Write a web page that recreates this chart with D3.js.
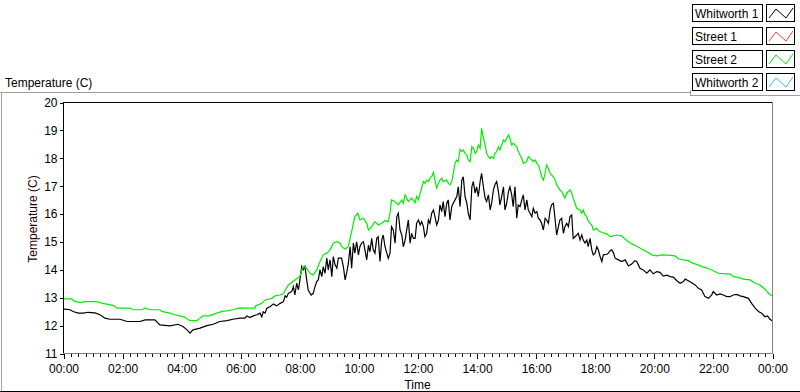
<!DOCTYPE html>
<html>
<head>
<meta charset="utf-8">
<script src="https://cdn.jsdelivr.net/npm/d3@7"></script>
<style>
  body { margin: 0; background: #fff; }
  svg { display: block; font-family: "Liberation Sans", Arial, sans-serif; }
  .tick text { font-size: 12px; fill: #000; }
  .tick line { stroke: #000; }
</style>
</head>
<body>
<svg></svg>
<script>
// Series names and colours, in legend order
var seriesNames  = ['Whitworth 1', 'Street 1', 'Street 2', 'Whitworth 2'];
var seriesColors = ['#000000', '#ff3b3b', '#00ee00', '#33b5ff'];

// Hours since midnight and temperature (C)
var whitworth1Hours = [0.00,0.07,0.24,0.34,0.51,0.68,0.85,1.08,1.25,1.42,1.59,1.93,2.17,2.61,2.78,3.11,3.28,3.62,3.89,4.06,
  4.20,4.30,4.40,4.64,4.87,5.08,5.31,5.55,5.75,5.99,6.16,6.22,6.33,6.44,6.56,6.67,6.73,6.78,6.84,6.90,
  7.01,7.12,7.23,7.35,7.46,7.52,7.57,7.63,7.74,7.80,7.85,7.91,7.97,8.02,8.08,8.13,8.19,8.25,8.30,8.40,
  8.47,8.53,8.59,8.64,8.70,8.76,8.81,8.87,8.93,8.98,9.04,9.10,9.15,9.21,9.27,9.32,9.43,9.49,9.55,9.60,
  9.66,9.72,9.77,9.83,9.88,9.94,10.00,10.05,10.11,10.17,10.22,10.28,10.34,10.39,10.45,10.50,10.56,10.62,10.67,10.73,
  10.79,10.84,10.90,10.96,11.01,11.07,11.12,11.18,11.24,11.30,11.35,11.41,11.47,11.52,11.58,11.69,11.75,11.80,11.86,11.92,
  11.97,12.03,12.09,12.14,12.20,12.25,12.31,12.37,12.42,12.48,12.54,12.59,12.65,12.71,12.76,12.82,12.87,12.93,12.99,13.04,
  13.10,13.16,13.21,13.27,13.33,13.38,13.44,13.50,13.55,13.61,13.67,13.72,13.78,13.84,13.89,13.95,14.00,14.06,14.12,14.17,
  14.23,14.29,14.34,14.40,14.46,14.51,14.57,14.62,14.68,14.74,14.79,14.85,14.91,14.96,15.02,15.08,15.13,15.19,15.24,15.30,
  15.36,15.41,15.47,15.53,15.58,15.64,15.70,15.75,15.81,15.87,15.92,15.98,16.04,16.09,16.15,16.20,16.26,16.32,16.37,16.43,
  16.49,16.54,16.60,16.66,16.71,16.77,16.82,16.88,16.94,16.99,17.05,17.11,17.16,17.22,17.27,17.33,17.39,17.44,17.50,17.56,
  17.61,17.67,17.73,17.78,17.84,17.90,17.95,18.01,18.07,18.12,18.18,18.24,18.29,18.41,18.46,18.52,18.57,18.63,18.69,18.80,
  18.91,19.03,19.14,19.25,19.36,19.42,19.53,19.64,19.76,19.87,19.98,20.10,20.21,20.32,20.44,20.55,20.66,20.78,20.89,21.00,
  21.06,21.17,21.28,21.40,21.51,21.62,21.73,21.85,21.96,22.01,22.13,22.24,22.35,22.47,22.58,22.69,22.81,22.92,23.03,23.20,
  23.31,23.43,23.54,23.65,23.76,23.85,23.93,24.00];
var whitworth1Temp = [12.57,12.57,12.55,12.49,12.43,12.43,12.46,12.44,12.37,12.25,12.21,12.21,12.13,12.13,12.19,12.19,12.01,11.97,12.03,11.95,
  11.83,11.71,11.83,11.89,11.98,12.03,12.13,12.16,12.21,12.25,12.25,12.33,12.27,12.33,12.37,12.43,12.30,12.48,12.43,12.61,
  12.66,12.76,12.69,12.78,12.84,13.05,13.00,13.14,13.20,13.38,13.08,13.50,13.26,13.62,14.10,13.98,14.10,13.62,13.26,13.08,
  13.14,13.38,13.56,13.62,13.98,13.74,14.10,13.86,14.40,13.98,14.34,13.74,14.46,14.16,14.04,14.40,14.40,14.10,13.62,13.86,
  14.22,14.81,14.04,14.94,14.58,14.99,14.52,14.81,14.94,14.99,14.70,14.34,14.87,14.63,15.11,14.70,14.58,15.11,15.17,14.28,
  15.05,15.23,14.81,14.58,14.40,14.58,15.53,15.41,14.94,15.89,16.01,15.41,15.23,14.81,15.05,15.77,14.94,15.29,15.11,15.11,
  15.65,15.77,15.59,15.71,15.53,15.17,15.29,15.77,15.65,16.01,16.13,15.89,15.59,15.77,16.31,16.07,16.43,15.89,16.37,16.49,
  15.77,16.25,16.37,16.49,16.61,16.96,16.25,17.20,17.32,16.61,16.37,16.01,15.77,16.96,17.15,16.73,16.96,16.61,17.15,17.44,
  16.96,16.55,16.43,16.67,16.13,16.37,16.85,17.03,17.15,16.79,16.31,16.61,16.96,16.13,16.37,16.79,16.96,16.67,16.25,16.96,
  15.83,16.31,16.25,16.49,16.67,16.13,16.49,16.13,16.01,15.89,16.19,16.01,16.07,15.83,15.77,15.65,15.41,15.83,15.77,15.65,
  16.13,16.31,16.37,15.77,15.23,15.53,15.77,15.83,15.29,15.53,15.65,15.53,15.89,15.95,15.11,15.17,15.23,15.29,15.05,15.23,
  15.05,14.94,15.05,14.81,15.11,14.70,14.52,14.58,14.81,14.70,14.46,14.28,14.52,14.54,14.58,14.67,14.70,14.60,14.40,14.34,
  14.28,14.34,14.12,14.19,14.31,14.28,14.04,13.98,13.86,13.98,13.84,13.92,13.89,13.76,13.79,13.74,13.72,13.59,13.50,13.56,
  13.65,13.59,13.52,13.44,13.32,13.26,13.02,12.96,13.08,13.20,13.08,13.12,13.08,13.02,13.02,13.08,13.10,13.05,13.02,12.96,
  12.78,12.61,12.49,12.43,12.30,12.33,12.21,12.16];

var street2Hours = [0.00,0.30,0.35,0.58,0.74,1.14,1.35,1.69,1.83,2.27,2.37,2.67,2.78,2.95,3.28,3.34,3.62,3.79,3.96,4.13,
  4.30,4.53,4.64,4.74,4.98,5.20,5.42,5.55,5.75,5.99,6.16,6.50,6.52,6.73,6.84,7.07,7.18,7.35,7.46,7.52,
  7.63,7.85,8.02,8.08,8.13,8.25,8.36,8.47,8.59,8.70,8.81,8.93,9.04,9.15,9.27,9.38,9.43,9.55,9.66,9.72,
  9.77,9.88,9.98,10.05,10.17,10.28,10.34,10.45,10.56,10.67,10.79,10.90,11.01,11.07,11.12,11.24,11.35,11.47,11.52,11.58,
  11.69,11.80,11.92,11.97,12.03,12.09,12.20,12.25,12.31,12.37,12.42,12.48,12.54,12.59,12.65,12.71,12.76,12.82,12.87,12.99,
  13.04,13.10,13.16,13.21,13.27,13.33,13.38,13.44,13.50,13.55,13.61,13.67,13.72,13.78,13.84,13.89,13.95,14.00,14.06,14.12,
  14.17,14.23,14.29,14.34,14.40,14.46,14.51,14.57,14.62,14.68,14.74,14.79,14.85,14.91,14.96,15.02,15.08,15.13,15.19,15.24,
  15.36,15.41,15.47,15.53,15.58,15.70,15.75,15.81,15.87,15.92,15.98,16.04,16.09,16.15,16.20,16.26,16.32,16.37,16.43,16.49,
  16.60,16.66,16.71,16.82,16.88,16.94,16.99,17.05,17.11,17.16,17.22,17.27,17.33,17.39,17.50,17.56,17.61,17.67,17.73,17.78,
  17.90,17.95,18.07,18.12,18.24,18.41,18.52,18.63,18.74,18.91,19.03,19.14,19.25,19.36,19.48,19.64,19.81,19.93,20.10,20.27,
  20.49,20.72,20.83,21.00,21.17,21.28,21.51,21.68,21.85,22.01,22.18,22.41,22.58,22.69,22.86,23.03,23.26,23.43,23.59,23.76,
  23.88,24.00];
var street2Temp = [12.94,12.94,12.87,12.81,12.84,12.84,12.78,12.71,12.61,12.61,12.55,12.55,12.61,12.55,12.55,12.49,12.43,12.37,12.33,12.28,
  12.16,12.16,12.25,12.33,12.34,12.43,12.50,12.51,12.55,12.62,12.61,12.61,12.69,12.78,12.90,12.96,13.05,13.08,13.12,13.24,
  13.44,13.62,13.74,13.98,14.10,14.04,13.86,13.80,13.98,14.28,14.52,14.58,14.70,14.94,14.99,14.94,14.82,14.72,14.82,15.12,
  15.35,15.89,16.01,15.77,15.83,15.65,15.41,15.53,15.71,15.59,15.65,15.75,15.71,16.01,16.49,16.43,16.31,16.49,16.37,16.67,
  16.43,16.55,16.39,16.61,16.49,16.73,17.15,17.09,17.20,17.15,17.27,17.32,17.47,17.20,16.91,17.09,17.20,17.27,17.15,17.20,
  17.09,17.03,17.15,17.44,17.80,17.92,17.86,18.30,18.22,18.28,18.16,18.10,17.92,17.86,18.40,18.34,18.16,18.22,18.46,18.34,
  19.06,18.70,18.46,18.16,18.04,17.98,18.04,17.98,18.16,18.22,18.40,18.28,18.46,18.64,18.58,18.70,18.82,18.70,18.46,18.52,
  18.40,18.22,18.10,17.98,17.80,17.86,18.04,17.98,17.92,17.86,17.92,17.80,17.74,17.56,17.32,17.20,17.44,17.74,17.62,17.44,
  17.32,17.20,17.03,16.85,16.79,16.67,16.55,16.73,16.79,16.85,16.73,16.55,16.37,16.19,16.13,16.01,16.13,15.95,15.89,15.73,
  15.59,15.41,15.47,15.39,15.32,15.27,15.17,15.20,15.23,15.20,15.08,14.99,14.91,14.86,14.79,14.70,14.60,14.52,14.48,14.52,
  14.51,14.48,14.38,14.34,14.31,14.24,14.15,14.08,14.03,13.95,13.86,13.84,13.84,13.74,13.71,13.65,13.62,13.50,13.44,13.29,
  13.14,13.05];

// Street 1 and Whitworth 2 show in the legend but have no visible trace
var street1Hours = [], street1Temp = [];
var whitworth2Hours = [], whitworth2Temp = [];

var yTicks = [11, 12, 13, 14, 15, 16, 17, 18, 19, 20];

var svgWidth = 800, svgHeight = 392;
var plot = { left: 63, top: 102, right: 772, bottom: 353 };

var day0 = new Date(2000, 0, 1, 0, 0);
var day1 = new Date(2000, 0, 2, 0, 0);
function toDate(h) { return new Date(day0.getTime() + h * 3600000); }

function zip(hours, temps) {
    return hours.map(function (h, i) { return { t: toDate(h), v: temps[i] }; });
}

var allSeries = [
    zip(whitworth1Hours, whitworth1Temp),
    zip(street1Hours, street1Temp),
    zip(street2Hours, street2Temp),
    zip(whitworth2Hours, whitworth2Temp)
];

var svg = d3.select('svg')
    .attr('width', svgWidth)
    .attr('height', svgHeight);

svg.append('rect').attr('width', svgWidth).attr('height', svgHeight).attr('fill', '#fff');

var xScale = d3.scaleTime().domain([day0, day1]).range([plot.left, plot.right]);
var yScale = d3.scaleLinear().domain([11, 20]).range([plot.bottom, plot.top]);

// outer frame (grey top/left, black bottom)
svg.append('line').attr('x1', 0).attr('x2', 690).attr('y1', 92.5).attr('y2', 92.5).attr('stroke', '#a0a0a0');
svg.append('line').attr('x1', 1.5).attr('x2', 1.5).attr('y1', 92).attr('y2', 391).attr('stroke', '#a0a0a0');
svg.append('line').attr('x1', 0).attr('x2', 800).attr('y1', 391.5).attr('y2', 391.5).attr('stroke', '#000');
svg.append('line').attr('x1', 690.5).attr('x2', 690.5).attr('y1', 90).attr('y2', 96).attr('stroke', '#a0a0a0');
svg.append('line').attr('x1', 690).attr('x2', 800).attr('y1', 95.5).attr('y2', 95.5).attr('stroke', '#a0a0a0');

svg.append('text')
    .attr('x', 5).attr('y', 87)
    .attr('font-size', 12)
    .text('Temperature (C)');

// the traces, clipped to the plot area
svg.append('clipPath').attr('id', 'plotClip')
  .append('rect')
    .attr('x', plot.left).attr('y', plot.top)
    .attr('width', plot.right - plot.left).attr('height', plot.bottom - plot.top);

var line = d3.line()
    .x(function (d) { return xScale(d.t); })
    .y(function (d) { return yScale(d.v); });

svg.append('g').attr('clip-path', 'url(#plotClip)')
  .selectAll('path')
    .data(allSeries)
    .enter()
    .append('path')
    .attr('d', function (d) { return d.length ? line(d) : null; })
    .attr('fill', 'none')
    .attr('stroke', function (d, i) { return seriesColors[i]; })
    .attr('stroke-width', 1.2)
    .attr('stroke-linejoin', 'miter');

// plot border: dark top/left, grey bottom/right
svg.append('line').attr('x1', plot.left).attr('x2', plot.right).attr('y1', plot.top + 0.5).attr('y2', plot.top + 0.5).attr('stroke', '#000');
svg.append('line').attr('x1', plot.left + 0.5).attr('x2', plot.left + 0.5).attr('y1', plot.top).attr('y2', plot.bottom).attr('stroke', '#000');
svg.append('line').attr('x1', plot.right + 0.5).attr('x2', plot.right + 0.5).attr('y1', plot.top).attr('y2', plot.bottom + 1).attr('stroke', '#808080');
svg.append('line').attr('x1', plot.left).attr('x2', plot.right + 1).attr('y1', plot.bottom + 0.5).attr('y2', plot.bottom + 0.5).attr('stroke', '#808080');

// y axis
var yAxis = d3.axisLeft(yScale).tickValues(yTicks).tickSize(4).tickPadding(2).tickFormat(d3.format('d'));
svg.append('g')
    .attr('class', 'y-axis')
    .attr('transform', 'translate(' + (plot.left + 0.5) + ',0.5)')
    .call(yAxis)
    .call(function (g) { g.select('.domain').remove(); });

// x axis: majors every 2 hours, minors every 15 minutes
var xMinor = d3.axisBottom(xScale).ticks(d3.timeMinute.every(15)).tickSize(3).tickFormat('');
svg.append('g')
    .attr('transform', 'translate(0.5,' + (plot.bottom + 1) + ')')
    .call(xMinor)
    .call(function (g) { g.select('.domain').remove(); });

var xAxis = d3.axisBottom(xScale).ticks(d3.timeHour.every(2)).tickSize(5).tickPadding(5).tickFormat(d3.timeFormat('%H:%M'));
svg.append('g')
    .attr('class', 'x-axis')
    .attr('transform', 'translate(0.5,' + (plot.bottom + 1) + ')')
    .call(xAxis)
    .call(function (g) { g.select('.domain').remove(); });

svg.selectAll('.tick line').attr('shape-rendering', 'crispEdges');

// axis titles
svg.append('text')
    .attr('x', (plot.left + plot.right) / 2).attr('y', 389)
    .attr('text-anchor', 'middle')
    .attr('font-size', 12)
    .text('Time');

svg.append('text')
    .attr('transform', 'translate(37,' + 219 + ') rotate(-90)')
    .attr('text-anchor', 'middle')
    .attr('font-size', 12)
    .attr('fill', '#1a0000')
    .text('Temperature (C)');

// legend: rows 23px apart, boxes 17px tall
var legendRowY = d3.scaleBand().domain(seriesNames).range([4, 90]).paddingInner(0.26);

var legend = svg.append('g').attr('class', 'legend')
  .selectAll('g')
    .data(seriesNames)
    .enter()
    .append('g')
    .attr('transform', function (d) { return 'translate(0,' + Math.round(legendRowY(d)) + ')'; });

legend.append('rect')
    .attr('x', 692.5).attr('y', 0.5).attr('width', 70).attr('height', 17)
    .attr('fill', '#fff').attr('stroke', '#000');

legend.append('text')
    .attr('x', 695).attr('y', 14)
    .attr('font-size', 12)
    .text(function (d) { return d; });

legend.append('rect')
    .attr('x', 766.5).attr('y', 0.5).attr('width', 28).attr('height', 17)
    .attr('fill', '#fff').attr('stroke', '#000');

legend.append('polyline')
    .attr('points', '769,14 776,5 786,14 793,4')
    .attr('fill', 'none')
    .attr('stroke', function (d, i) { return seriesColors[i]; })
    .attr('stroke-width', 1);
</script>
</body>
</html>
